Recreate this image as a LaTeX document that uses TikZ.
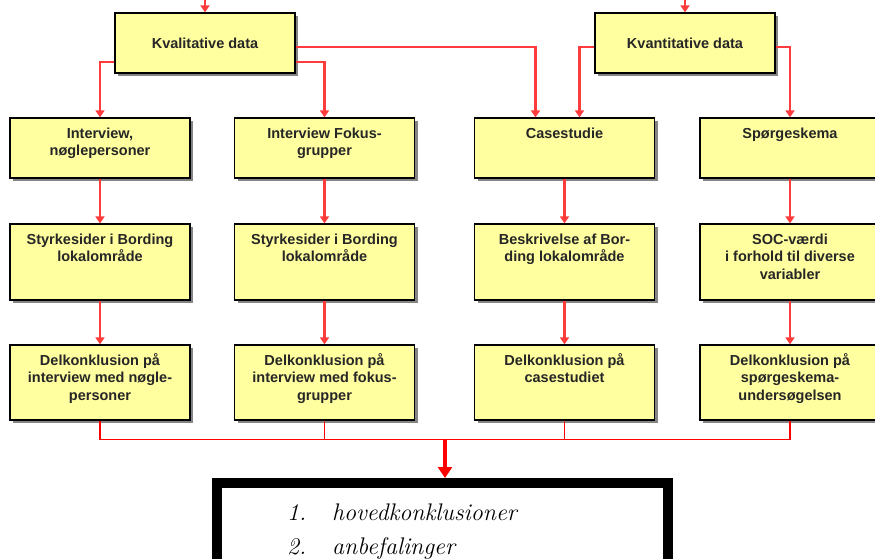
\documentclass[tikz,border=0pt]{standalone}
\usepackage{fontspec}
\newfontfamily\arialfont{Liberation Sans}
\usetikzlibrary{arrows.meta,shadows}

\definecolor{cellyellow}{RGB}{255,255,160}
\definecolor{linkred}{RGB}{255,60,60}

\newcommand\cellfont{\arialfont\bfseries\fontsize{14.5}{17.5}\selectfont}
\newcommand\celltext[2]{\parbox[t][#1][t]{172pt}{\centering\rule{0pt}{20pt}#2}}

\begin{document}
\begin{tikzpicture}[x=1pt, y=-1pt,
  cell/.style={draw, fill=cellyellow, line width=1.3pt, inner xsep=4pt, inner ysep=0pt,
    minimum width=180pt, minimum height=60pt, font=\cellfont, text=black!85,
    drop shadow={shadow xshift=3pt, shadow yshift=-3pt, fill=black!60, opacity=.8}},
  link/.style={draw=linkred, line width=2.2pt, -{Triangle[width=9pt,length=7pt]}},
  bus/.style={draw=red, line width=1.2pt},
  bigarrow/.style={draw=red, line width=4.5pt, -{Triangle[width=14pt,length=11pt]}},
  result/.style={draw, line width=10pt, fill=white, inner xsep=70pt, inner ysep=14pt,
    text width=311pt, align=left, font=\fontsize{24}{34}\selectfont\itshape}]

\useasboundingbox (0,0) rectangle (875,558);
\clip (0,0) rectangle (875,558);

%% data
\node[cell] (kval) at (205,43) {Kvalitative data};
\node[cell] (kvant) at (685,43) {Kvantitative data};

%% methods
\node[cell] (int) at (100,148) {\celltext{60pt}{Interview,\\nøglepersoner}};
\node[cell] (fok) at (324.5,148) {\celltext{60pt}{Interview Fokus-\\grupper}};
\node[cell] (case) at (564.5,148) {\celltext{60pt}{Casestudie}};
\node[cell] (spg) at (790,148) {\celltext{60pt}{Spørgeskema}};

%% results
\node[cell] (styA) at (100,262) {\celltext{76pt}{Styrkesider i Bording\\lokalområde}};
\node[cell] (styB) at (324.5,262) {\celltext{76pt}{Styrkesider i Bording\\lokalområde}};
\node[cell] (besk) at (564.5,262) {\celltext{76pt}{Beskrivelse af Bor-\\ding lokalområde}};
\node[cell] (soc) at (790,262) {\celltext{76pt}{SOC-værdi\\i forhold til diverse\\variabler}};

%% part conclusions
\node[cell] (dkA) at (100,382.5) {\celltext{75pt}{Delkonklusion på\\interview med nøgle-\\personer}};
\node[cell] (dkB) at (324.5,382.5) {\celltext{75pt}{Delkonklusion på\\interview med fokus-\\grupper}};
\node[cell] (dkC) at (564.5,382.5) {\celltext{75pt}{Delkonklusion på\\casestudiet}};
\node[cell] (dkD) at (790,382.5) {\celltext{75pt}{Delkonklusion på\\spørgeskema-\\undersøgelsen}};

%% conclusion
\node[result, anchor=north] (res) at (442.5,478)
{\begin{tabular}{@{}r@{\hspace{26pt}}l@{}}
1. & hovedkonklusioner\\
2. & anbefalinger
\end{tabular}};

%% inputs
\coordinate (inA) at (205,0);
\coordinate (inB) at (685,0);
\draw[link] (inA) -- (kval.north);
\draw[link] (inB) -- (kvant.north);

\draw[link] ([yshift=-19pt]kval.west) -| (int.north);
\draw[link] ([yshift=-19pt]kval.east) -| (fok.north);
\draw[link] ([yshift=-4pt]kval.east) -| ([xshift=-29pt]case.north);
\draw[link] ([yshift=-4pt]kvant.west) -| ([xshift=15pt]case.north);
\draw[link] ([yshift=-4pt]kvant.east) -| (spg.north);

\foreach \a/\b in {int/styA, fok/styB, case/besk, spg/soc,
                   styA/dkA, styB/dkB, besk/dkC, soc/dkD}
  \draw[link] (\a.south) -- (\b.north);

%% collect
\draw[bus] (dkA.south) -- ++(0,19) coordinate (busA) -| (dkD.south);
\draw[bus] (dkB.south) -- (dkB.south |- busA);
\draw[bus] (dkC.south) -- (dkC.south |- busA);
\coordinate (join) at ([xshift=2.5pt]res.north |- busA);
\draw[bigarrow] (join) -- ([xshift=2.5pt]res.north);

\end{tikzpicture}
\end{document}
